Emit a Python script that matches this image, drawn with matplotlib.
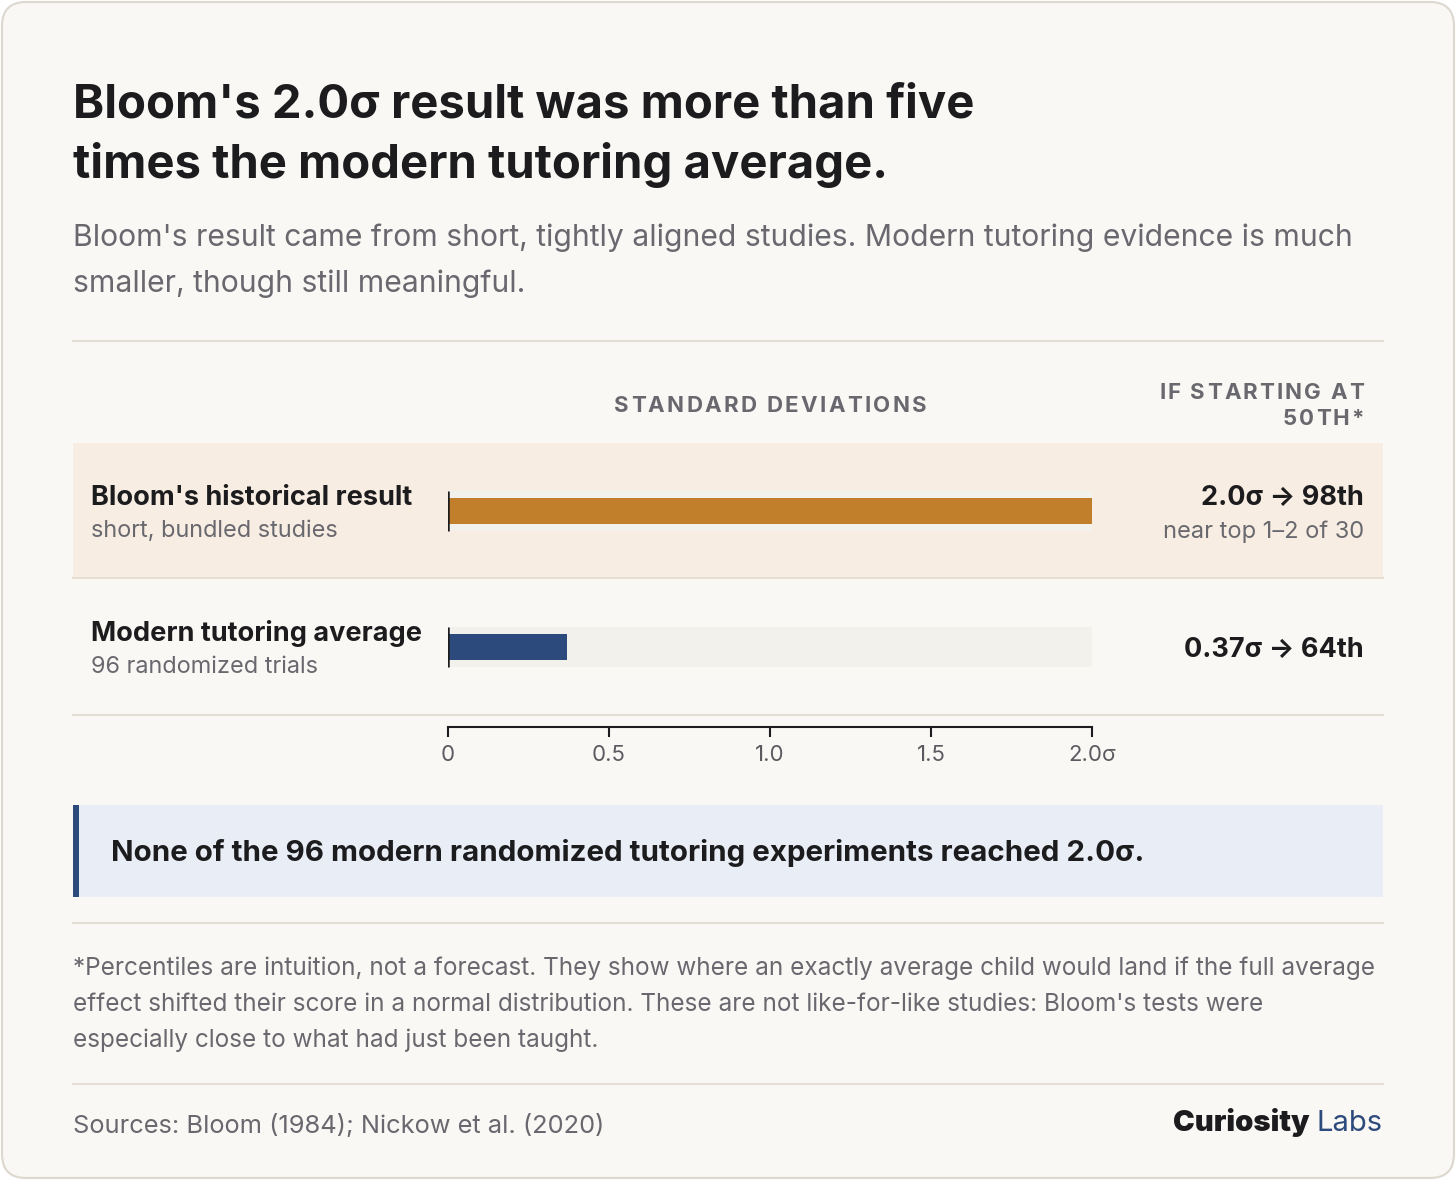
import matplotlib
matplotlib.use("Agg")
import matplotlib.pyplot as plt
from matplotlib.patches import FancyBboxPatch, Rectangle
from matplotlib.lines import Line2D

# --- data ---
row_labels = ["Bloom's historical result", "Modern tutoring average"]
row_notes = ["short, bundled studies", "96 randomized trials"]
effect_sd = [2.0, 0.37]
percentile_text = ["2.0σ → 98th", "0.37σ → 64th"]
percentile_notes = ["near top 1–2 of 30", ""]
bar_colors = ["#c17f2b", "#2d4a7c"]
x_ticks = [0, 0.5, 1.0, 1.5, 2.0]
x_tick_labels = ["0", "0.5", "1.0", "1.5", "2.0σ"]
axis_max = 2.0

W, H = 1456, 1182
FONT = ["Inter", "DejaVu Sans"]
DARK = "#1c1c1e"
GRAY = "#68686e"
RULE = "#e3dfd6"

plt.rcParams["font.family"] = FONT

def fx(x):
    return x / W

def fy(y):
    return 1 - y / H

def pt(px):
    return px * 72 / 100

fig = plt.figure(figsize=(W / 100, H / 100), dpi=100, facecolor="white")
renderer = fig.canvas.get_renderer()

# card background
card = FancyBboxPatch((2, 4), W - 4, H - 6, boxstyle="round,pad=0,rounding_size=24",
                      transform=None, facecolor="#faf8f4", edgecolor="#dcd8ce", lw=1.5, zorder=0)
fig.add_artist(card)

def rule(y):
    fig.add_artist(Line2D([fx(73), fx(1383)], [fy(y), fy(y)], transform=fig.transFigure,
                          color=RULE, lw=1.5, zorder=1))

def txt(x, y, s, size, color=DARK, weight="normal", ha="left", **kw):
    return fig.text(fx(x), fy(y), s, fontsize=size, color=color, fontweight=weight,
                    ha=ha, va="baseline", family=FONT, **kw)

def text_w(s, size, weight):
    t = fig.text(0, 0, s, fontsize=size, fontweight=weight, family=FONT)
    w = t.get_window_extent(renderer).width
    t.remove()
    return w

def tracked(x, y, s, size, track, color=GRAY, weight="bold", ha="left"):
    # letter-spaced caps, placed one glyph at a time
    bar_w = text_w("|", size, weight)
    total = text_w(s, size, weight) + track * (len(s) - 1)
    if ha == "right":
        x = x - total
    elif ha == "center":
        x = x - total / 2
    for i, ch in enumerate(s):
        off = text_w(s[:i] + "|", size, weight) - bar_w if i else 0
        txt(x + off + i * track, y, ch, size, color=color, weight=weight)

# title + subtitle
txt(73, 117, "Bloom's 2.0σ result was more than five", 34, weight="bold")
txt(73, 178, "times the modern tutoring average.", 34, weight="bold")
txt(73, 246, "Bloom's result came from short, tightly aligned studies. Modern tutoring evidence is much",
    21.7, color=GRAY)
txt(73, 292, "smaller, though still meaningful.", 21.7, color=GRAY)

rule(341)

# column headers
tracked(770, 412, "STANDARD DEVIATIONS", 16, 2.3, ha="center")
tracked(1364, 399, "IF STARTING AT", 16, 2.1, ha="right")
tracked(1364, 425, "50TH*", 16, 2.1, ha="right")

# highlighted band for Bloom row
fig.add_artist(Rectangle((fx(73), fy(578)), fx(1383) - fx(73), fy(443) - fy(578),
                         transform=fig.transFigure, facecolor="#f7ede2", edgecolor="none", zorder=1))
fig.add_artist(Line2D([fx(73), fx(1383)], [fy(578), fy(578)], transform=fig.transFigure,
                      color="#e6dfd3", lw=1.5, zorder=1))

# chart axes
ax = fig.add_axes([fx(448), fy(715), (1092 - 448) / W, (715 - 443) / H])
ax.set_facecolor("none")
ax.set_zorder(2)
rows = list(range(len(effect_sd)))
ax.barh(rows, [axis_max] * len(rows), height=0.294, color="#f3f1ec", zorder=1)
ax.barh(rows, effect_sd, height=0.191, color=bar_colors, zorder=2)
ax.vlines([0] * len(rows), [r - 0.147 for r in rows], [r + 0.147 for r in rows],
          color=DARK, lw=1.8, zorder=3)
ax.set_xlim(0, axis_max)
ax.set_ylim(len(rows) - 0.5, -0.5)
for s in ["left", "top", "right"]:
    ax.spines[s].set_visible(False)
ax.spines["bottom"].set_position(("outward", pt(12)))
ax.spines["bottom"].set_color(DARK)
ax.spines["bottom"].set_linewidth(1.5)
ax.spines["bottom"].set_bounds(0, axis_max)
ax.set_yticks([])
ax.set_xticks(x_ticks)
ax.set_xticklabels(x_tick_labels, family=FONT)
ax.tick_params(axis="x", length=pt(10), width=1.5, color=DARK, labelsize=16,
               labelcolor="#5a5a60", pad=pt(8))

# row labels and right-hand values
row_y = [511, 647]
for i, r in enumerate(rows):
    y = row_y[i]
    txt(91, y - 6, row_labels[i], 19.5, weight="bold")
    txt(91, y + 26, row_notes[i], 16.9, color=GRAY)
    if percentile_notes[i]:
        txt(1364, y - 6, percentile_text[i], 19.5, weight="bold", ha="right")
        txt(1364, y + 27, percentile_notes[i], 17, color=GRAY, ha="right")
    else:
        txt(1364, y + 10, percentile_text[i], 19.5, weight="bold", ha="right")

rule(715)

# callout
fig.add_artist(Rectangle((fx(73), fy(897)), fx(1383) - fx(73), fy(805) - fy(897),
                         transform=fig.transFigure, facecolor="#e9eef6", edgecolor="none", zorder=1))
fig.add_artist(Rectangle((fx(73), fy(897)), fx(79) - fx(73), fy(805) - fy(897),
                         transform=fig.transFigure, facecolor="#2d4a7c", edgecolor="none", zorder=1))
txt(111, 861, "None of the 96 modern randomized tutoring experiments reached 2.0σ.", 21.3, weight="bold")

rule(923)

# footnote
foot = [
    "*Percentiles are intuition, not a forecast. They show where an exactly average child would land if the full average",
    "effect shifted their score in a normal distribution. These are not like-for-like studies: Bloom's tests were",
    "especially close to what had just been taught.",
]
for i, line in enumerate(foot):
    txt(73, 975 + i * 36, line, 17.5, color=GRAY)

rule(1084)

txt(73, 1133, "Sources: Bloom (1984); Nickow et al. (2020)", 18.3, color=GRAY)

# brand
labs = txt(1383, 1131, "Labs", 21, color="#2d4a7c", ha="right")
bb = labs.get_window_extent(renderer)
txt(bb.x0 - 7, 1131, "Curiosity", 21, weight="black", ha="right")

fig.savefig("out.png", dpi=100, facecolor="white")
